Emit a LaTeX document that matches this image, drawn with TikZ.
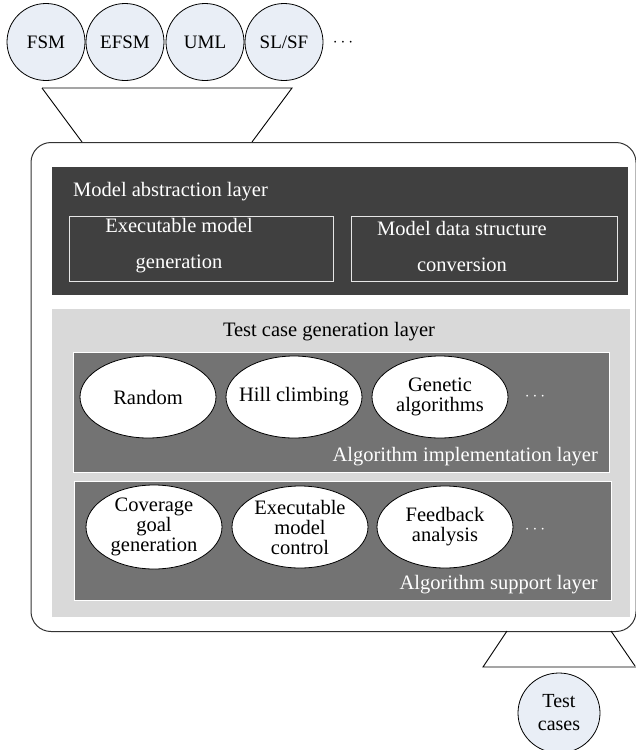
\documentclass[tikz,border=0pt]{standalone}
\usepackage{fontspec}
\setmainfont{Liberation Serif}
\usetikzlibrary{shapes.geometric}
\definecolor{circfill}{HTML}{E9EEF6}
\definecolor{darkl}{HTML}{404040}
\definecolor{lightl}{HTML}{D9D9D9}
\definecolor{midl}{HTML}{737373}
\definecolor{boxline}{HTML}{E6E6E6}
\definecolor{outline}{HTML}{333333}
\begin{document}
\begin{tikzpicture}[x=1pt,y=-1pt,
  src/.style={ellipse, draw=black, line width=0.8pt, fill=circfill, minimum width=78pt, minimum height=77pt, inner sep=0pt, align=center, font=\rmfamily\fontsize{19}{23}\selectfont},
  algo/.style={ellipse, draw=black, line width=0.8pt, fill=white, minimum width=136pt, minimum height=82pt, inner sep=0pt},
  algotext/.style={inner sep=0pt, align=center, font=\rmfamily\fontsize{20.5}{20}\selectfont},
  layerbox/.style={rectangle, anchor=north west, inner sep=0pt},
  lbl/.style={inner sep=0pt, font=\rmfamily\fontsize{20.5}{36}\selectfont, align=center},
  dotsl/.style={inner sep=0pt, font=\fontsize{19}{19}\selectfont},
  funnel/.style={draw=black, line width=0.9pt}
]
\useasboundingbox (0,0) rectangle (636,750);

% source models
\node[src] (fsm) at (46,42) {FSM};
\node[src] (efsm) at (125,42) {EFSM};
\node[src] (uml) at (205,42) {UML};
\node[src] (slsf) at (284,42) {SL/SF};
\node[dotsl] (topdots) at (343,43) {$\cdots$};

% input funnel
\draw[funnel] (42,88) -- (292,88) -- (252,142);
\draw[funnel] (42,88) -- (82,142);

% outer frame
\node[layerbox, draw=outline, line width=1pt, rounded corners=20pt, minimum width=605pt, minimum height=489pt] (frame) at (30.5,142) {};

% model abstraction layer
\node[layerbox, fill=darkl, minimum width=576pt, minimum height=128pt] (mal) at (52,167) {};
\node[lbl, anchor=west, white] (malt) at (73,192) {Model abstraction layer};
\node[layerbox, draw=boxline, line width=0.8pt, minimum width=264pt, minimum height=65pt] (emg) at (69,216) {};
\node[layerbox, draw=boxline, line width=0.8pt, minimum width=266pt, minimum height=65pt] (mdsc) at (351,216) {};
\node[lbl, white] (emgt) at (179,246) {Executable model\\generation};
\node[lbl, white] (mdsct) at (462,246) {Model data structure\\conversion};

% test case generation layer
\node[layerbox, fill=lightl, minimum width=578pt, minimum height=308pt] (tcg) at (52,309) {};
\node[lbl, black] (tcgt) at (329,332) {Test case generation layer};

% algorithm implementation layer
\node[layerbox, fill=midl, draw=white, line width=0.8pt, minimum width=536pt, minimum height=120pt] (ail) at (73,352) {};
\node[algo, label={[algotext]center:Random}] (rand) at (148,397) {};
\node[algo, label={[algotext]center:Hill climbing}] (hill) at (294,397) {};
\node[algo, label={[algotext]center:{Genetic\\algorithms}}] (gen) at (440,397) {};
\node[dotsl, white] (aildots) at (535,397) {$\cdots$};
\node[lbl, anchor=east, white] (ailt) at (598,457) {Algorithm implementation layer};

% algorithm support layer
\node[layerbox, fill=midl, draw=white, line width=0.8pt, minimum width=537pt, minimum height=119pt] (asl) at (74,481) {};
\node[algo, minimum height=84pt, label={[algotext]center:{Coverage\\goal\\generation}}] (cov) at (154,527) {};
\node[algo, label={[algotext]center:{Executable\\model\\control}}] (emc) at (300,527) {};
\node[algo, label={[algotext]center:{Feedback\\analysis}}] (fba) at (445,527) {};
\node[dotsl, white] (asldots) at (535,530) {$\cdots$};
\node[lbl, anchor=east, white] (aslt) at (598,585) {Algorithm support layer};

% output funnel
\draw[funnel] (507,631) -- (483,667) -- (636,667);
\draw[funnel] (611,631) -- (635,666);

% test cases
\node[src, minimum width=82pt, minimum height=80pt, font=\rmfamily\fontsize{20}{23}\selectfont] (tc) at (559,713) {Test\\cases};
\end{tikzpicture}
\end{document}
